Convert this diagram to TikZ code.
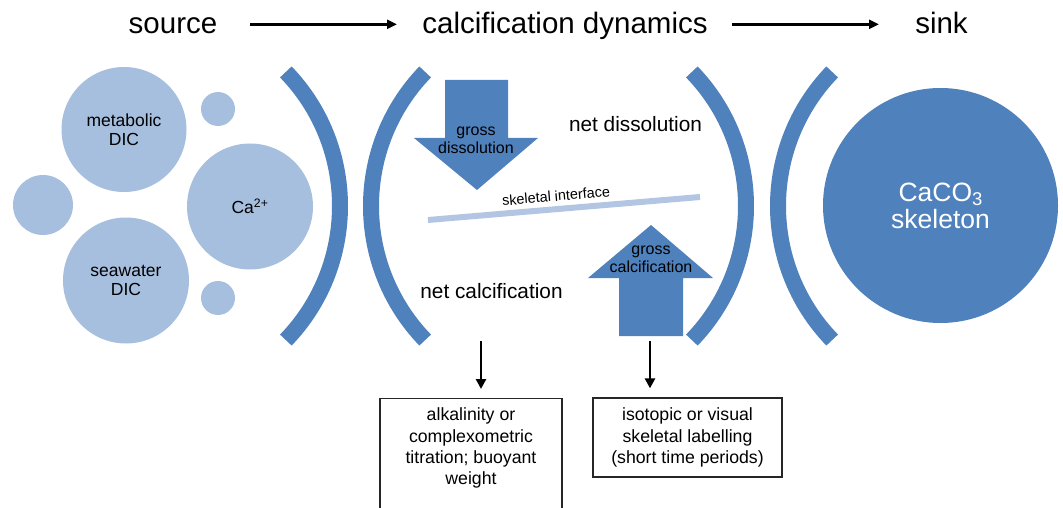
\documentclass[tikz,border=0pt]{standalone}
\usepackage{fontspec}
\setmainfont{Liberation Sans}
\usetikzlibrary{arrows.meta}
\definecolor{lightblob}{RGB}{167,191,222}
\definecolor{darkblob}{RGB}{79,129,189}
\definecolor{ifaceblue}{RGB}{178,197,226}
\begin{document}
\begin{tikzpicture}[x=1pt,y=1pt,
  blob/.style={circle,fill=lightblob,inner sep=0pt,minimum size=#1,align=center,
    font=\fontsize{17.5}{19.3}\selectfont},
  bigblob/.style={circle,fill=darkblob,inner sep=0pt,minimum size=#1,align=center,
    text=white,font=\fontsize{26.5}{26.5}\selectfont},
  title/.style={inner sep=0pt,anchor=base,font=\fontsize{29.5}{34}\selectfont},
  bracket/.style={draw=darkblob,line width=16pt},
  flowarrow/.style={line width=2.7pt,-{Triangle[length=10pt,width=9pt]}},
  downarrow/.style={line width=2.7pt,-{Triangle[length=10pt,width=10pt]}},
  blocktext/.style={inner sep=0pt,align=center,font=\fontsize{16}{18}\selectfont},
  nettext/.style={inner sep=0pt,font=\fontsize{20.8}{24}\selectfont},
  methodbox/.style={draw=black!85,line width=1.3pt,inner sep=0pt,align=center,
    font=\fontsize{17.7}{21.1}\selectfont},
  boxtext/.style={inner sep=0pt,align=center,font=\fontsize{17.7}{21.1}\selectfont}
]
\useasboundingbox (0,0) rectangle (1063,-508);

% titles
\node[title] (src) at (173,-34) {source};
\node[title] (cal) at (565,-34) {calcification dynamics};
\node[title] (snk) at (941.5,-34) {sink};
\coordinate (a1s) at (250,-24.3);
\coordinate (a1e) at (397,-24.3);
\coordinate (a2s) at (732,-24.3);
\coordinate (a2e) at (879,-24.3);
\draw[flowarrow] (a1s) -- (a1e);
\draw[flowarrow] (a2s) -- (a2e);

% source circles
\node[blob=125pt] (met) at (124,-129.5) {metabolic\\DIC};
\node[blob=34pt] (st) at (218,-109) {};
\node[blob=60pt] (lm) at (43,-205) {};
\node[blob=126pt] (ca) at (250,-206.5) {Ca\textsuperscript{2+}};
\node[blob=126pt] (sea) at (126,-280.5) {seawater\\DIC};
\node[blob=34pt] (sb) at (218,-298) {};

% brackets
\draw[bracket] (147,-206) ++(-44:193) arc[start angle=-44,end angle=44,radius=193];
\draw[bracket] (564,-206) ++(136:193) arc[start angle=136,end angle=224,radius=193];
\draw[bracket] (553,-206) ++(-44:193) arc[start angle=-44,end angle=44,radius=193];
\draw[bracket] (971,-206) ++(136:193) arc[start angle=136,end angle=224,radius=193];

% sink
\node[bigblob=235pt] (skel) at (940.5,-205.5)
  {CaCO\raisebox{-4.5pt}{\fontsize{18.5}{18.5}\selectfont 3}\\[0.3pt]skeleton};

% block arrows
\fill[darkblob] (445,-80) -- (508,-80) -- (508,-138) -- (538,-138) -- (477,-190)
  -- (414,-138) -- (445,-138) -- cycle;
\fill[darkblob] (619,-336) -- (683,-336) -- (683,-278) -- (713,-278) -- (651,-225)
  -- (588,-278) -- (619,-278) -- cycle;
\node[blocktext] (gd) at (476,-140.5) {gross\\dissolution};
\node[blocktext] (gc) at (651,-259) {gross\\calcification};

% skeletal interface
\coordinate (ifl) at (428,-220);
\coordinate (ifr) at (700,-197);
\draw[ifaceblue,line width=6pt] (ifl) -- (ifr);
\node[inner sep=0pt,rotate=4.83,font=\fontsize{14.4}{16}\selectfont] (ifx) at (556,-196) {skeletal interface};

% net labels
\node[nettext] (nd) at (635.5,-124.5) {net dissolution};
\node[nettext] (nc) at (491.5,-290.7) {net calcification};

% method boxes
\node[methodbox,minimum width=182pt,minimum height=130pt,anchor=north] (b1) at (471,-398) {};
\node[boxtext] (b1t) at (471,-448) {alkalinity or\\complexometric\\titration; buoyant\\weight};
\node[methodbox,minimum width=189pt,minimum height=79pt] (b2) at (687.5,-437.5)
  {isotopic or visual\\skeletal labelling\\(short time periods)};
\coordinate (v1) at (481,-341);
\coordinate (v2) at (650,-341);
\draw[downarrow,shorten >=9pt] (v1) -- (v1 |- b1.north);
\draw[downarrow,shorten >=9pt] (v2) -- (v2 |- b2.north);
\end{tikzpicture}
\end{document}
